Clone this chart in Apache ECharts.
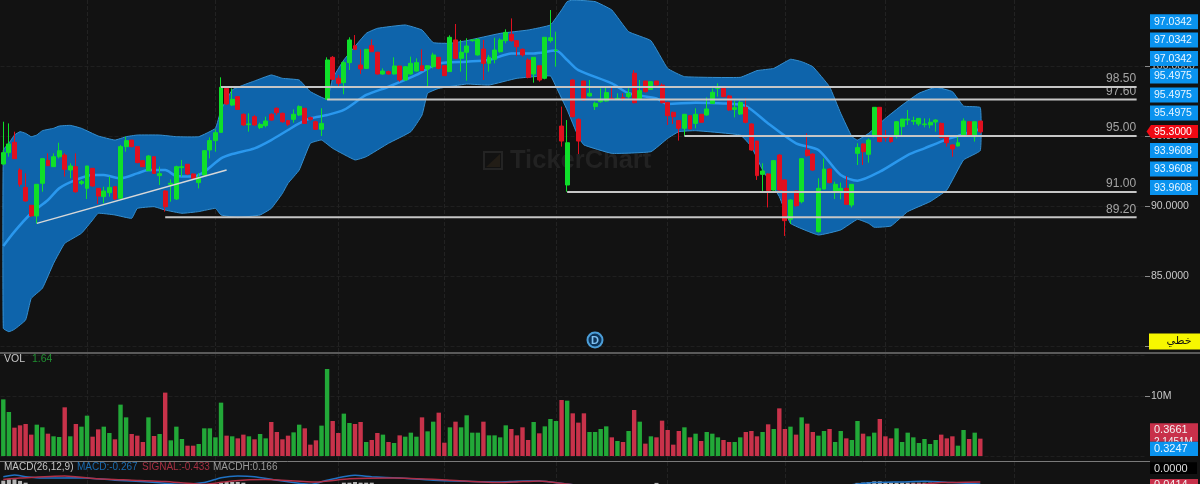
<!DOCTYPE html>
<html>
<head>
<meta charset="utf-8">
<style>html,body{margin:0;padding:0;background:#121212}#c{width:1200px;height:484px}</style>
<script src="https://cdn.jsdelivr.net/npm/echarts@6/dist/echarts.min.js"></script>
</head>
<body>
<div id="c"></div>
<script>
var slotCount = 205;
var categories = Array.from({length: slotCount}, function (_, i) { return 'D' + (i + 1); });

var opens = [93.00,93.81,94.55,92.57,91.33,90.05,89.29,91.62,93.26,92.81,
93.52,93.64,92.57,92.81,91.62,91.26,92.69,91.26,90.67,90.95,
91.38,90.55,94.24,94.71,94.24,93.24,92.52,93.52,92.17,91.07,
91.55,90.50,92.74,92.98,92.29,91.67,92.21,94.00,94.67,95.26,
98.40,97.21,97.81,96.55,95.81,96.38,95.60,95.74,96.55,96.98,
96.62,96.10,96.19,96.50,96.98,96.31,96.02,95.48,97.62,100.62,
99.12,98.81,100.24,101.45,100.07,99.83,101.45,100.98,99.43,99.60,
99.43,100.00,99.00,99.43,99.64,100.02,99.79,99.95,100.62,100.02,
99.60,101.86,100.55,100.98,101.81,100.79,101.21,100.19,100.48,101.02,
101.81,102.26,101.81,101.19,100.43,99.43,100.02,99.12,101.81,101.10,
95.71,91.50,99.00,96.19,98.93,97.86,97.10,97.45,97.50,97.69,
97.64,97.74,97.81,99.48,97.62,98.93,98.33,98.93,98.64,97.40,
96.69,96.10,95.55,96.45,95.90,96.55,96.50,97.33,98.40,98.40,
97.86,96.90,96.57,97.05,95.86,94.64,92.26,92.29,91.14,93.64,
91.86,89.05,91.07,90.31,94.00,93.71,88.17,91.21,92.64,91.02,
91.07,91.26,90.07,93.76,94.43,93.69,95.00,97.05,95.00,94.90,
95.00,95.67,96.14,96.05,95.86,95.81,95.79,96.00,95.90,94.90,
94.36,94.29,95.00,96.02,94.95,96.07];
var closes = [93.81,94.43,93.38,91.55,90.36,89.29,91.55,93.38,92.88,93.52,
93.95,92.62,92.86,91.02,91.74,92.86,91.43,90.71,91.07,91.33,
90.50,94.24,94.67,94.24,93.10,92.81,93.57,92.33,92.31,89.95,
91.62,92.81,92.81,92.29,91.98,92.05,93.95,94.67,95.24,98.48,
97.29,97.62,96.90,95.79,95.86,95.79,95.83,96.07,96.14,96.67,
96.02,95.83,96.55,97.10,95.90,96.19,95.48,95.90,100.43,99.05,
98.76,100.24,101.86,101.19,99.79,101.19,101.02,99.43,99.64,99.43,
100.00,99.00,99.95,100.19,100.24,99.67,100.02,100.79,99.83,99.31,
102.05,100.55,100.98,101.43,101.86,101.90,100.19,100.62,101.14,101.86,
102.40,101.81,101.38,100.79,99.19,100.62,99.00,102.05,102.02,101.14,
94.64,94.52,96.38,94.64,97.57,98.05,97.33,97.62,98.10,97.62,
97.69,97.64,98.05,97.38,98.24,98.17,98.88,98.64,97.38,96.45,
96.38,95.55,96.55,95.50,96.55,95.98,96.93,98.12,98.48,97.81,
96.86,97.02,97.40,95.98,94.00,92.17,92.50,91.10,93.24,91.14,
88.95,90.43,90.02,93.38,93.60,92.57,91.26,92.64,91.67,91.55,
91.26,90.12,91.55,94.17,93.88,94.71,97.05,94.60,94.90,94.60,
96.02,96.21,96.21,96.10,96.26,95.86,95.98,96.14,94.90,94.52,
94.07,94.52,96.07,95.00,96.02,95.30];
var lows = [92.93,93.52,93.38,91.38,90.31,89.24,88.76,91.02,92.88,92.81,
93.40,92.10,91.98,90.95,91.50,90.50,91.38,90.14,90.19,90.67,
90.43,90.50,93.88,94.19,93.05,92.81,92.52,92.29,91.50,89.60,
90.31,90.43,92.10,92.21,91.86,91.26,92.14,93.40,93.88,95.24,
97.21,97.14,96.86,95.71,95.31,95.71,95.50,95.62,96.10,96.50,
95.95,95.71,95.95,96.43,95.86,96.10,95.43,95.00,97.57,99.00,
98.57,97.98,99.71,101.14,99.43,99.79,101.02,99.38,99.38,99.38,
99.38,98.88,98.95,99.38,99.60,99.64,98.52,99.83,99.76,99.29,
99.57,100.48,99.60,98.95,101.74,100.74,99.00,99.60,100.19,100.95,
101.62,101.74,100.71,100.67,99.12,98.81,98.88,99.05,101.67,99.95,
94.24,91.02,96.33,93.71,97.52,97.81,96.86,97.38,97.45,97.57,
97.57,97.52,97.69,97.33,97.57,98.10,98.29,98.60,97.33,95.79,
95.86,94.67,95.00,95.48,95.55,95.95,96.45,97.29,97.81,97.76,
96.81,96.33,96.50,95.90,93.95,91.86,90.95,89.90,91.10,91.10,
87.86,88.71,89.95,90.19,93.52,92.52,88.10,91.19,91.62,90.50,
90.48,90.07,89.90,92.93,92.93,93.10,94.90,94.55,94.60,94.52,
94.83,95.07,95.79,95.79,95.71,95.62,95.55,95.31,94.83,94.24,
93.52,94.24,94.95,94.95,94.60,95.19];
var highs = [96.02,95.90,95.31,92.69,92.33,90.07,91.55,93.38,93.76,93.76,
94.52,93.76,93.05,93.76,91.86,92.86,92.69,91.26,91.38,92.10,
91.43,94.36,94.95,94.71,94.24,93.29,93.64,93.52,92.81,91.14,
91.90,92.88,93.29,92.98,92.33,92.33,94.00,94.90,95.48,99.19,
98.40,98.40,97.81,96.62,96.62,96.50,95.95,96.38,96.62,97.05,
96.67,96.14,96.90,97.19,96.98,96.38,96.10,96.98,100.62,100.71,
99.36,100.38,102.05,102.21,101.19,101.19,101.90,101.02,99.83,99.67,
100.62,100.00,100.00,100.67,100.55,101.19,100.02,100.95,100.62,100.02,
102.19,103.00,101.86,101.98,101.90,101.98,101.86,100.79,102.02,101.98,
102.62,103.40,101.86,101.26,100.55,100.62,100.02,102.05,104.00,102.45,
97.10,96.14,99.05,96.26,98.93,99.00,97.45,98.40,98.48,98.48,
98.05,98.05,98.40,99.71,99.00,98.93,98.93,98.93,98.76,97.45,
96.74,96.14,96.55,96.50,96.98,96.55,97.76,98.40,98.76,98.48,
97.93,97.52,97.52,97.69,95.90,94.64,93.05,92.33,93.29,93.71,
91.90,90.48,91.10,93.40,95.19,93.76,91.98,93.40,92.69,91.74,
91.67,92.14,91.55,94.48,94.48,94.83,97.05,97.05,95.43,95.00,
96.07,96.21,96.86,96.38,96.26,96.26,96.26,96.19,95.95,94.95,
94.40,95.07,96.26,96.02,96.02,96.07];
var volumes = [9.44,7.33,4.72,5.11,5.33,3.56,5.22,4.78,3.72,3.28,
3.17,8.11,3.28,5.33,4.89,6.72,3.22,4.44,4.89,3.83,
2.78,8.56,6.44,3.67,3.39,2.33,6.44,3.33,3.67,10.56,
2.61,4.89,2.83,1.72,1.72,2.00,4.61,4.61,3.11,8.89,
3.39,3.28,2.94,3.56,3.28,2.78,3.67,2.94,5.67,4.00,
2.78,3.39,3.94,5.22,4.61,1.89,2.61,5.06,14.50,5.83,
3.83,7.06,5.50,5.33,5.67,2.33,2.67,3.83,3.56,2.33,
2.17,3.44,3.22,3.89,3.22,6.44,4.11,5.72,7.22,2.22,
4.78,5.72,4.78,6.78,3.89,3.89,5.72,3.44,3.44,3.11,
5.11,4.50,3.44,4.78,2.67,5.67,3.78,4.94,6.17,5.83,
9.33,9.22,7.11,5.56,7.11,4.00,4.00,4.50,4.94,3.11,
2.50,2.33,4.17,7.67,5.72,2.06,3.28,3.11,5.89,4.33,
1.89,4.17,4.78,3.11,3.72,2.50,4.00,3.72,3.11,2.67,
2.33,2.33,3.11,4.00,4.17,3.28,4.00,5.28,4.50,7.94,
4.50,4.89,3.56,6.44,5.39,4.00,3.39,4.17,4.50,2.33,
4.17,2.94,2.67,5.83,3.72,3.28,3.89,6.17,3.28,2.94,
4.61,2.33,3.89,3.11,2.17,2.83,2.00,2.67,3.56,2.94,
3.28,1.72,4.33,2.83,3.89,2.89];

var upperIdx = [0,1,2,3,4,5,6,7,9,10,12,14,17,20,22,24,28,31,35,38,39,41,43,45,48,50,53,55,58,59,61,65,67,72,75,77,80,83,89,94,98,100,101,102,106,109,112,116,119,122,132,135,138,141,143,145,148,150,152,153,155,158,161,164,167,170,172,175];
var upperVals = [94.00,94.48,95.07,95.31,95.19,94.95,95.07,95.38,95.55,95.71,95.76,95.55,95.00,94.71,94.95,95.07,95.07,94.95,94.95,95.55,96.86,98.29,98.64,98.93,99.36,99.12,99.00,98.17,97.62,99.12,100.43,102.33,102.69,102.93,102.57,101.67,101.62,101.81,102.33,102.57,102.93,104.00,104.60,104.71,104.60,104.00,102.45,101.81,99.83,99.24,99.19,99.67,99.83,100.48,100.31,99.95,98.52,96.62,94.95,94.71,95.19,96.26,97.21,98.05,98.48,98.17,97.14,97.03];
var lowerIdx = [0,1,2,4,5,7,9,11,14,16,17,20,23,24,27,29,32,35,38,39,42,46,48,50,51,53,55,57,59,63,65,69,73,75,76,78,83,87,92,98,99,101,103,104,109,116,119,121,124,132,134,136,139,141,146,150,153,155,156,159,162,166,169,172,175];
var lowerVals = [81.26,81.02,81.19,81.86,83.40,84.12,85.90,87.33,88.05,89.00,89.48,89.36,89.12,89.83,89.95,89.71,89.48,89.60,89.83,89.36,89.17,89.36,89.83,90.90,91.62,92.57,94.48,94.71,94.12,93.29,93.52,94.48,95.31,96.50,98.05,98.40,98.71,98.64,99.12,99.29,98.52,96.86,94.95,94.36,93.76,93.88,94.83,95.31,95.38,95.07,94.24,92.57,90.67,88.76,87.93,88.29,89.05,88.76,88.48,88.57,89.60,90.31,91.14,93.29,93.96];
var middleIdx = [0,2,5,8,10,13,16,18,21,24,26,29,31,34,36,39,41,45,48,51,53,55,58,61,65,69,74,78,83,87,91,95,99,101,103,109,112,117,119,124,129,133,137,142,146,150,153,157,162,165,169,171,175];
var middleVals = [87.14,88.17,89.48,90.43,91.26,91.86,92.21,92.21,91.98,92.33,92.57,92.57,92.14,92.10,92.45,93.40,93.71,94.12,94.71,95.43,95.90,96.26,96.50,96.86,97.93,98.52,99.36,100.19,100.31,100.43,100.90,100.90,101.10,100.43,99.71,98.76,98.05,97.69,97.29,97.38,97.33,97.14,95.90,94.48,94.00,92.21,91.81,92.45,93.64,94.12,94.76,95.00,95.50];

var levelValues = [98.5, 97.6, 95, 91, 89.2];
var levelStarts = [39, 58, 122, 101, 29];
var levelEnd = 203;
var trendIdx = [6, 40];
var trendVals = [88.76, 92.57];

var macdIdx = [0,2,4,7,14,20,26,32,36,39,42,45,49,55,58,63,66,71,77,89,92,96,101,107,149,152,156,161,165,170,175];
var macdVals = [-0.28,-0.23,-0.28,-0.32,-0.31,-0.38,-0.43,-0.50,-0.45,-0.31,-0.26,-0.28,-0.38,-0.50,-0.38,-0.24,-0.28,-0.32,-0.38,-0.43,-0.41,-0.40,-0.49,-0.60,-0.60,-0.51,-0.45,-0.43,-0.41,-0.45,-0.49];
var signalIdx = [0,3,11,17,23,29,36,41,47,56,62,70,80,89,92,96,101,107,149,155,165,168,175];
var signalVals = [-0.36,-0.32,-0.26,-0.34,-0.38,-0.42,-0.50,-0.40,-0.36,-0.43,-0.34,-0.32,-0.38,-0.45,-0.43,-0.40,-0.49,-0.60,-0.60,-0.55,-0.49,-0.45,-0.43];
var histIdx = [0,1,2,3,4,39,40,41,42,43,61,62,63,64,65,66,117,153,154,155,156,157,158,159,160,161,162,163,164,165,166];
var histVals = [0.15,0.21,0.21,0.14,0.06,0.06,0.09,0.09,0.09,0.06,0.06,0.06,0.09,0.06,0.06,0.06,0.05,0.05,0.06,0.09,0.12,0.12,0.09,0.06,0.06,0.06,0.06,0.06,0.06,0.06,0.06];

var dividerIdx = [15, 38, 60, 79, 99, 119, 140, 158, 181];

var bandTagTexts = ['97.0342','97.0342','97.0342','95.4975','95.4975','95.4975','93.9608','93.9608','93.9608'];
var lastPriceText = '95.3000';
var chartTypeText = 'خطي';
var volValueText = '1.64';
var macdTitle = 'MACD(26,12,9)';
var macdText = 'MACD:-0.267';
var signalText = 'SIGNAL:-0.433';
var macdhText = 'MACDH:0.166';
var watermarkText = 'TickerChart';

function pairs(xs, ys) { return xs.map(function (x, i) { return [x, ys[i]]; }); }

var UP = '#0fe02a', DOWN = '#e0101f', VOLUP = '#22a838', VOLDOWN = '#c8324a';
var LABELFONT = 'Liberation Sans';

var candleData = opens.map(function (o, i) { return [o, closes[i], lows[i], highs[i]]; });
var volData = volumes.map(function (v, i) {
  return { value: v, itemStyle: { color: closes[i] >= opens[i] ? VOLUP : VOLDOWN } };
});

function bandPolygon(params, api) {
  var pts = [];
  upperIdx.forEach(function (x, i) { pts.push(api.coord([x, upperVals[i]])); });
  for (var j = lowerIdx.length - 1; j >= 0; j--) pts.push(api.coord([lowerIdx[j], lowerVals[j]]));
  return { type: 'polygon', shape: { points: pts, smooth: 0.1 }, style: { fill: '#0e64ab', stroke: '#358fd0', lineWidth: 1 } };
}

var levelSeries = levelValues.map(function (v, i) {
  return {
    type: 'line', xAxisIndex: 0, yAxisIndex: 0, symbol: 'none', z: 6, silent: true,
    data: [[levelStarts[i], v], [levelEnd, v]],
    lineStyle: { color: '#c6c6c6', width: 2 }
  };
});

var tagCentres = [21.7, 40, 58.5, 76, 95, 113, 150.5, 169, 187.5];
var graphics = [];
function box(x, y, w, h, fill, z) {
  graphics.push({ type: 'rect', z: z || 100, silent: true, shape: { x: x, y: y, width: w, height: h }, style: { fill: fill } });
}
function label(x, y, text, color, size, extra) {
  graphics.push({ type: 'text', z: (extra && extra.z) || 101, silent: true, x: x, y: y,
    style: Object.assign({ text: text, fill: color, font: (extra && extra.weight ? extra.weight + ' ' : '') + size + 'px "' + LABELFONT + '"',
      verticalAlign: 'middle', align: (extra && extra.align) || 'left' }) });
}
// watermark
graphics.push({ type: 'rect', z: -1, silent: true, shape: { x: 484, y: 152, width: 18, height: 17 }, style: { fill: 'none', stroke: '#242424', lineWidth: 2 } });
graphics.push({ type: 'polygon', z: -1, silent: true, shape: { points: [[486, 167], [500, 154], [500, 167]] }, style: { fill: '#221d16' } });
graphics.push({ type: 'text', z: -1, silent: true, x: 510, y: 161, style: { text: watermarkText, fill: '#222222', font: 'bold 25.5px "' + LABELFONT + '"', verticalAlign: 'middle' } });
// separators
[[0, 353, 1200, '#5a5a5a', 2], [0, 461.5, 1150, '#7a7a7a', 1]].forEach(function (s) {
  graphics.push({ type: 'line', z: 50, silent: true, shape: { x1: s[0], y1: s[1], x2: s[2], y2: s[1] }, style: { stroke: s[3], lineWidth: s[4] } });
});
// price tags
bandTagTexts.forEach(function (t, i) {
  box(1150, tagCentres[i] - 7.5, 48, 15, '#0a93ef');
  label(1154, tagCentres[i] + 0.5, t, '#eaf6ff', 10.5);
});
graphics.push({ type: 'polygon', z: 100, silent: true, shape: { points: [[1146.5, 131.5], [1151, 125], [1198, 125], [1198, 138], [1151, 138]] }, style: { fill: '#f00a14' } });
label(1154, 132, lastPriceText, '#ffffff', 10.5);
box(1149, 333.5, 51, 16, '#f7f700');
graphics.push({ type: 'text', z: 101, silent: true, x: 1179, y: 341, style: { text: chartTypeText, fill: '#111', font: '11px "DejaVu Sans"', align: 'center', verticalAlign: 'middle' } });
// volume & macd tags
box(1150, 423.3, 48, 18.4, '#c8304a');
label(1154, 429.5, '0.3661', '#f2f2f2', 11);
label(1154, 442, '2.1451M', '#f2f2f2', 10, { z: 101 });
box(1150, 441.7, 48, 14.3, '#0a93ef', 102);
label(1154, 449, '0.3247', '#eaf6ff', 11, { z: 103 });
box(1150, 462.3, 47, 11.7, '#000000');
label(1154, 468.5, '0.0000', '#dddddd', 11);
box(1150, 479, 48, 6, '#c8304a');
label(1154, 485, '0.0414', '#f2f2f2', 11);
// legends
label(4, 359, 'VOL', '#c8c8c8', 10.5);
label(32, 359, volValueText, '#1f8f30', 10.5);
label(4, 467.7, macdTitle, '#c4c4c4', 10);
label(77, 467.7, macdText, '#1a6bb0', 10);
label(142, 467.7, signalText, '#a52f42', 10);
label(213, 467.7, macdhText, '#9a9a9a', 10);
// D marker
graphics.push({ type: 'circle', z: 60, silent: true, shape: { cx: 595, cy: 340, r: 7.5 }, style: { fill: '#0c3358', stroke: '#4c9ed8', lineWidth: 2 } });
label(595, 340.5, 'D', '#7fc0f0', 11, { align: 'center', weight: 'bold', z: 61 });

var hiddenX = function (gridIndex) {
  return { type: 'category', gridIndex: gridIndex, data: categories, show: false, boundaryGap: true };
};

var option = {
  backgroundColor: '#121212',
  animation: false,
  grid: [
    { left: 0.5, width: 1144.5, top: -4, height: 350, outerBoundsMode: 'none' },
    { left: 0.5, width: 1144.5, top: 355, height: 101, outerBoundsMode: 'none' },
    { left: 0.5, width: 1144.5, top: 462, height: 22, outerBoundsMode: 'none' },
    { left: 0.5, width: 1144.5, top: 0, height: 484, outerBoundsMode: 'none' }
  ],
  xAxis: [hiddenX(0), hiddenX(1), hiddenX(2), hiddenX(2), hiddenX(3)],
  yAxis: [
    { type: 'value', gridIndex: 0, position: 'right', min: 80, max: 105, interval: 5, scale: true,
      axisLine: { show: false },
      axisTick: { show: true, length: 5, lineStyle: { color: '#8a8a8a' } },
      axisLabel: { margin: 6, color: '#c8c8c8', fontSize: 10.5, fontFamily: LABELFONT, showMaxLabel: false,
        formatter: function (v) { return v.toFixed(4); } },
      splitLine: { show: true, lineStyle: { color: '#1f1f1f', type: 'dashed', width: 1 } } },
    { type: 'value', gridIndex: 1, position: 'right', min: 0, max: 16.83, interval: 10,
      axisLine: { show: false },
      axisTick: { show: true, length: 5, lineStyle: { color: '#8a8a8a' } },
      axisLabel: { margin: 6, color: '#c8c8c8', fontSize: 10.5, fontFamily: LABELFONT, showMinLabel: false, showMaxLabel: false,
        formatter: function (v) { return v + 'M'; } },
      splitLine: { show: true, lineStyle: { color: '#1f1f1f', type: 'dashed', width: 1 } } },
    { type: 'value', gridIndex: 2, position: 'right', min: -0.49, max: 0.145, show: false, splitLine: { show: false } },
    { type: 'value', gridIndex: 2, position: 'right', min: 0, max: 1, show: false, splitLine: { show: false } },
    { type: 'value', gridIndex: 3, position: 'right', min: 0, max: 1, show: false, splitLine: { show: false } }
  ],
  graphic: { elements: graphics },
  series: [
    { type: 'line', xAxisIndex: 4, yAxisIndex: 4, data: [], silent: true, z: 1,
      markLine: { silent: true, z: 0, symbol: 'none', label: { show: false }, animation: false,
        lineStyle: { color: '#222222', type: 'dashed', width: 1 },
        data: dividerIdx.map(function (i) { return { xAxis: i }; }) } },
    { type: 'custom', xAxisIndex: 0, yAxisIndex: 0, clip: true, z: 2, silent: true, renderItem: bandPolygon, data: [[0, 90]] },
    { type: 'line', name: 'middle', xAxisIndex: 0, yAxisIndex: 0, symbol: 'none', z: 3, silent: true, data: pairs(middleIdx, middleVals), smooth: 0.25, lineStyle: { color: '#2a98ee', width: 2.5 } },
    { type: 'candlestick', xAxisIndex: 0, yAxisIndex: 0, z: 4, silent: true, barWidth: 4.4, data: candleData,
      itemStyle: { color: UP, color0: DOWN, borderColor: UP, borderColor0: DOWN, borderWidth: 1 } },
    { type: 'line', name: 'trend', xAxisIndex: 0, yAxisIndex: 0, symbol: 'none', z: 6, silent: true, data: pairs(trendIdx, trendVals), lineStyle: { color: '#d8d8d8', width: 1.5 } }
  ].concat(levelSeries).concat([
    { type: 'scatter', xAxisIndex: 0, yAxisIndex: 0, z: 7, silent: true, symbolSize: 1, itemStyle: { color: 'rgba(0,0,0,0)' },
      data: levelValues.map(function (v) { return [levelEnd, v]; }),
      label: { show: true, position: 'left', distance: 0, offset: [0, -8], color: '#c8c8c8', fontSize: 12, fontFamily: LABELFONT,
        formatter: function (p) { return p.value[1].toFixed(2); } } },
    { type: 'bar', xAxisIndex: 1, yAxisIndex: 1, barWidth: 4.4, silent: true, data: volData, z: 3 },
    { type: 'bar', xAxisIndex: 2, yAxisIndex: 3, barWidth: 4, silent: true, data: pairs(histIdx, histVals), itemStyle: { color: '#b4b4b4' }, z: 3 },
    { type: 'line', name: 'macd', xAxisIndex: 2, yAxisIndex: 2, symbol: 'none', silent: true, smooth: 0.2, data: pairs(macdIdx, macdVals), lineStyle: { color: '#1f72c4', width: 1.5 }, z: 4 },
    { type: 'line', name: 'signal', xAxisIndex: 2, yAxisIndex: 2, symbol: 'none', silent: true, smooth: 0.2, data: pairs(signalIdx, signalVals), lineStyle: { color: '#b03047', width: 1.5 }, z: 5 }
  ])
};
var chart = echarts.init(document.getElementById('c'), null, { renderer: 'canvas' });
chart.setOption(option);
</script>
</body>
</html>
